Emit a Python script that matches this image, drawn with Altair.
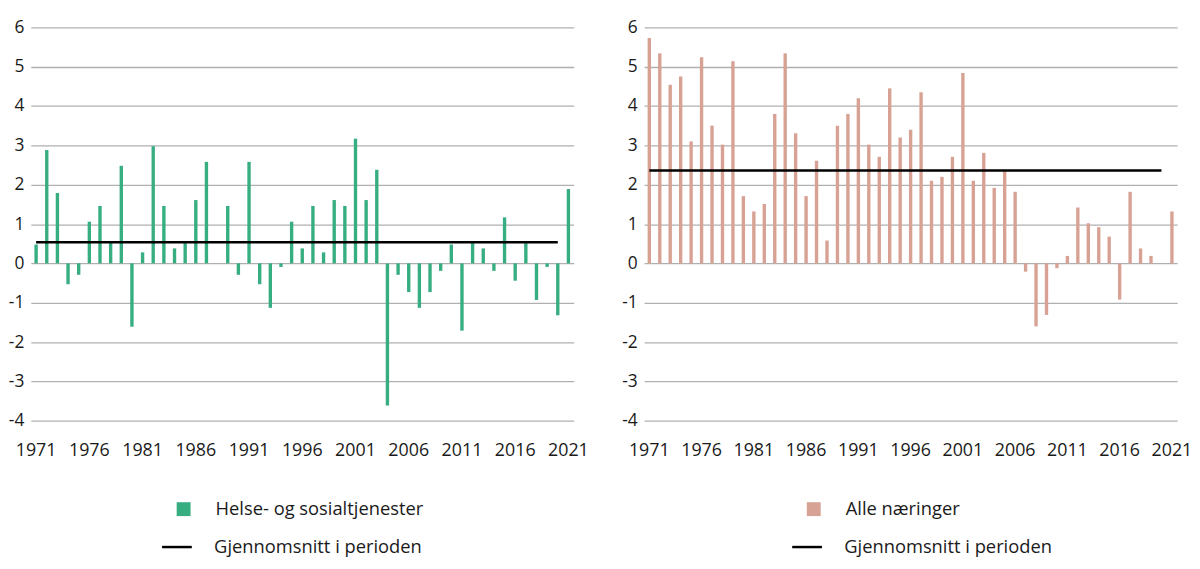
import altair as alt
import pandas as pd

years = list(range(1971, 2022))

helse = [0.48, 2.88, 1.79, -0.53, -0.29, 1.06, 1.46, 0.53, 2.48, -1.61,
         0.28, 2.98, 1.46, 0.38, 0.53, 1.61, 2.58, 0.0, 1.46, -0.29,
         2.58, -0.53, -1.13, -0.09, 1.06, 0.38, 1.46, 0.28, 1.61, 1.46,
         3.17, 1.61, 2.38, -3.61, -0.29, -0.73, -1.13, -0.73, -0.19, 0.48,
         -1.71, 0.53, 0.38, -0.19, 1.17, -0.44, 0.53, -0.93, -0.09, -1.32,
         1.89]

alle = [5.73, 5.34, 4.54, 4.75, 3.10, 5.24, 3.50, 3.02, 5.14, 1.71,
        1.32, 1.51, 3.80, 5.34, 3.31, 1.71, 2.61, 0.58, 3.50, 3.80,
        4.20, 3.02, 2.71, 4.45, 3.20, 3.40, 4.35, 2.10, 2.20, 2.71,
        4.84, 2.10, 2.81, 1.92, 2.36, 1.82, -0.21, -1.60, -1.31, -0.12,
        0.19, 1.42, 1.02, 0.92, 0.68, -0.92, 1.82, 0.38, 0.19, 0.0,
        1.32]

avg_helse = 0.54
avg_alle = 2.36
avg_start, avg_end = 1971, 2020

avg_label = "Gjennomsnitt i perioden"
tick_years = [1971, 1976, 1981, 1986, 1991, 1996, 2001, 2006, 2011, 2016, 2021]
y_ticks = list(range(-4, 7))

FONT = "Open Sans"
TXT = "#1a1a1a"


def panel(values, avg, name, color, width, sq_x, line_x):
    df = pd.DataFrame({"year": years, "value": values, "series": name})
    dfa = pd.DataFrame({"start": [avg_start], "end": [avg_end], "value": [avg],
                        "avgseries": [avg_label]})
    leg_common = dict(title=None, orient="none", direction="vertical", labelLimit=400,
                      labelFontSize=18.5, labelFont=FONT, labelColor=TXT)
    xscale = alt.Scale(domain=years, paddingInner=0, paddingOuter=0)
    xaxis = alt.Axis(title=None, values=tick_years, ticks=False, domain=False,
                     labelAngle=0, labelFontSize=18, labelFont=FONT,
                     labelColor=TXT, labelPadding=21, grid=False)
    yscale = alt.Scale(domain=[-4, 6], nice=False, zero=False)
    yaxis = alt.Axis(title=None, values=y_ticks, ticks=False, domain=False,
                     labelFontSize=17.5, labelFont=FONT, labelColor=TXT, labelPadding=7,
                     labelOverlap=False, labelExpr="'' + datum.value",
                     gridColor="#b0b0b0", gridWidth=1.3)
    bars = alt.Chart(df).mark_bar(size=3.4).encode(
        x=alt.X("year:O", scale=xscale, axis=xaxis),
        y=alt.Y("value:Q", scale=yscale, axis=yaxis),
        fill=alt.Fill("series:N", scale=alt.Scale(domain=[name], range=[color]),
                      legend=alt.Legend(legendX=sq_x, legendY=477, symbolType="square",
                                        symbolSize=196, labelOffset=23, **leg_common)),
    )
    rule = alt.Chart(dfa).mark_rule(strokeWidth=2.5).encode(
        x=alt.X("start:O", scale=xscale, axis=xaxis),
        x2="end",
        y=alt.Y("value:Q", scale=yscale, axis=yaxis),
        stroke=alt.Stroke("avgseries:N", scale=alt.Scale(domain=[avg_label], range=["#000000"]),
                          legend=alt.Legend(legendX=line_x, legendY=508, symbolType="stroke",
                                            symbolSize=900, symbolStrokeWidth=2.5,
                                            labelOffset=21, **leg_common)),
    )
    return alt.layer(bars, rule).properties(width=width, height=397)


left = panel(helse, avg_helse, "Helse- og sosialtjenester", "#37ad82", 548, 145, 131)
right = panel(alle, avg_alle, "Alle næringer", "#d7a294", 538, 162, 148)

chart = alt.hconcat(left, right, spacing=33).resolve_scale(
    fill="independent", stroke="independent"
).properties(
    padding={"left": 0, "top": 8, "right": 0, "bottom": 0}
).configure_view(stroke=None)

chart.save("out.html", embed_options={"renderer": "svg", "actions": False})
